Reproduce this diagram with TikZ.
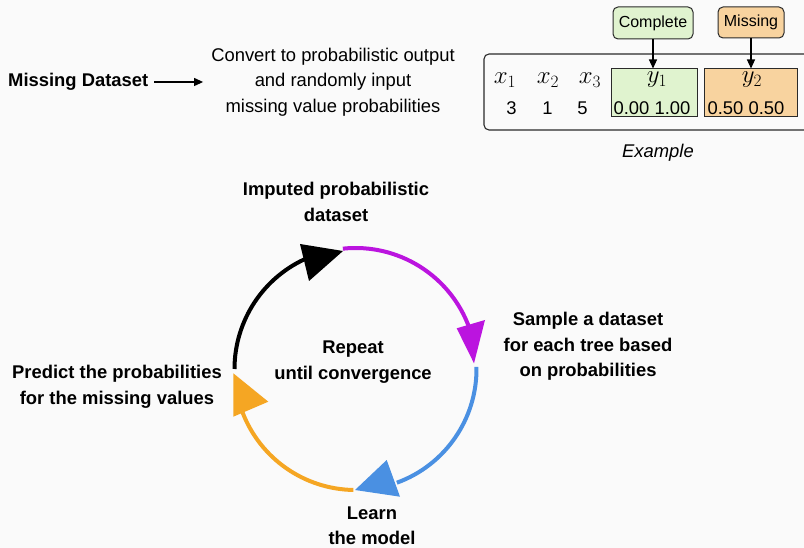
\documentclass[tikz,border=0pt]{standalone}
\usepackage{fontspec}
\setmainfont{Liberation Sans}
\usetikzlibrary{arrows.meta}
\definecolor{bg}{HTML}{FAFAFA}
\definecolor{gfill}{HTML}{E0F3CF}
\definecolor{ofill}{HTML}{F8D39F}
\definecolor{cpurple}{HTML}{BB14DF}
\definecolor{cblue}{HTML}{4A90E2}
\definecolor{corange}{HTML}{F5A623}
\definecolor{edge}{HTML}{2A2A2A}
\begin{document}
\begin{tikzpicture}[x=1pt,y=-1pt,
  lbl/.style={font=\fontsize{18.4}{25.5}\selectfont\bfseries, align=center, inner sep=0pt},
  txt/.style={font=\fontsize{18.4}{25.5}\selectfont, align=center, inner sep=0pt},
  mth/.style={font=\fontsize{24}{26}\selectfont, inner sep=0pt},
  tag/.style={draw=edge, line width=1pt, rounded corners=5pt, font=\fontsize{16}{18}\selectfont, inner sep=0pt},
  cell/.style={draw=edge, line width=1pt, inner sep=0pt},
  smallarrow/.style={line width=1.1pt, -{Triangle[length=9pt,width=8pt]}},
  seg/.style={line width=4pt}]
\useasboundingbox (0,0) rectangle (804,548);
\fill[bg] (0,0) rectangle (804,548);
\clip (0,0) rectangle (804,548);

% top left
\node[lbl, anchor=west] (md) at (8,82) {Missing Dataset};
\node[txt] (conv) at (333,82) {Convert to probabilistic output\\and randomly input\\missing value probabilities};
\draw[smallarrow] ([xshift=6pt]md.east) -- ([xshift=-8pt]conv.west |- md.east);

% example table
\draw[edge, line width=1.1pt, rounded corners=5pt] (484,54) rectangle (840,130);
\node[cell, fill=gfill, minimum width=86pt, minimum height=48pt] (g) at (654,93) {};
\node[cell, fill=ofill, minimum width=93pt, minimum height=48pt] (o) at (750.5,93) {};
\node[mth] (x1) at (505,80) {$x_1$};
\node[mth] (x2) at (548,80) {$x_2$};
\node[mth] (x3) at (590,80) {$x_3$};
\node[mth] (y1) at (657,80) {$y_1$};
\node[mth] (y2) at (752,80) {$y_2$};
\node[txt] (v1) at (511.5,108) {3};
\node[txt] (v2) at (547.5,108) {1};
\node[txt] (v3) at (582.5,108) {5};
\node[txt] (p1) at (652,108) {0.00 1.00};
\node[txt] (p2) at (746,108) {0.50 0.50};
\node[tag, fill=gfill, minimum width=80pt, minimum height=32pt] (comp) at (653,23) {Complete};
\node[tag, fill=ofill, minimum width=66pt, minimum height=31pt] (miss) at (751,22.5) {Missing};
\draw[smallarrow] (comp.south) -- (comp.south |- g.north);
\draw[smallarrow] (miss.south) -- (miss.south |- o.north);
\node[txt, font=\fontsize{18.4}{20}\selectfont\itshape] (ex) at (658,153) {Example};

% cycle
\coordinate (c) at (355.5,369);
\draw[seg, black] (c) ++(180:121) arc[start angle=180, end angle=247, radius=121];
\draw[seg, cpurple] (c) ++(264:121) arc[start angle=264, end angle=340, radius=121];
\draw[seg, cblue] (c) ++(-1:121) arc[start angle=-1, end angle=70, radius=121];
\draw[seg, corange] (c) ++(91:121) arc[start angle=91, end angle=159, radius=121];
\fill[black] (300,244) -- (343,251) -- (309,281) -- cycle;
\fill[cpurple] (456.7,328.3) -- (485,320) -- (474,363.3) -- cycle;
\fill[cblue] (386.7,460) -- (400,496.7) -- (355,490) -- cycle;
\fill[corange] (233.3,373.3) -- (233.3,416.7) -- (268.3,401.7) -- cycle;

% cycle labels
\node[lbl] (imp) at (336,202) {Imputed probabilistic\\dataset};
\node[lbl] (samp) at (588,346.5) {Sample a dataset\\for each tree based\\on probabilities};
\node[lbl] (rep) at (353,362) {Repeat\\until convergence};
\node[lbl] (pred) at (117,387) {Predict the probabilities\\for the missing values};
\node[lbl, font=\fontsize{18.4}{24.5}\selectfont\bfseries] (learn) at (372,526) {Learn\\the model};
\end{tikzpicture}
\end{document}
